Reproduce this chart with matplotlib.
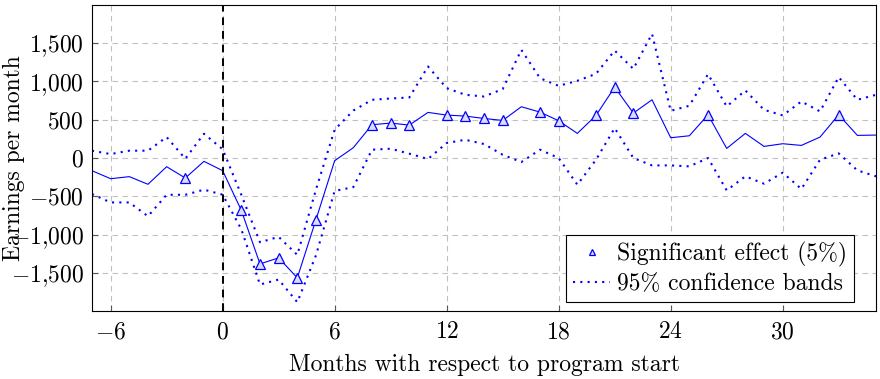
import numpy as np
import matplotlib
matplotlib.use('Agg')
import matplotlib.pyplot as plt
from matplotlib.ticker import FuncFormatter

plt.rcParams['font.family'] = ['cmr10', 'DejaVu Serif']
plt.rcParams['mathtext.fontset'] = 'cm'
plt.rcParams['axes.formatter.use_mathtext'] = True
plt.rcParams['axes.unicode_minus'] = False

# months relative to program start
months = list(range(-7, 36))

# point estimates
effect = [-165, -270, -243, -343, -113, -261, -43, -165, -683, -1383,
          -1304, -1565, -804, -35, 135, 435, 457, 430, 596, 561,
          548, 517, 491, 670, 600, 487, 322, 557, 926, 587,
          761, 265, 291, 565, 126, 322, 152, 187, 165, 274,
          565, 296, 300]

# 95% confidence bands
upper = [96, 52, 96, 96, 274, -9, 317, 115, -480, -1100,
         -1030, -1265, -410, 370, 620, 761, 778, 791, 1196, 913,
         826, 804, 900, 1413, 1043, 943, 1009, 1100, 1404, 1165,
         1622, 617, 683, 1096, 674, 883, 630, 557, 739, 609,
         1057, 761, 826]
lower = [-470, -580, -580, -760, -480, -480, -413, -478, -930, -1652,
         -1587, -1883, -1270, -430, -380, 109, 122, 57, -13, 196,
         239, 183, 43, -52, 109, 0, -348, -22, 391, 0,
         -96, -96, -109, 0, -422, -239, -335, -191, -404, -22,
         61, -161, -239]

# months where the effect is significant at 5%
sig_months = [-2, 1, 2, 3, 4, 5, 8, 9, 10, 12, 13, 14, 15, 17, 18, 20, 21, 22, 26, 33]

sig_vals = [effect[months.index(m)] for m in sig_months]

fig = plt.figure(figsize=(8.8, 3.79), dpi=100)
ax = fig.add_axes([0.1045, 0.179, 0.891, 0.808])

ax.grid(True, color='#c0c0c0', linestyle=(0, (5, 4)), linewidth=0.8)
ax.set_axisbelow(True)

ax.plot(months, effect, color='blue', linewidth=0.8)
ax.plot(sig_months, sig_vals, linestyle='none', marker='^', markersize=6.5,
        markerfacecolor='#dcdcff', markeredgecolor='blue', markeredgewidth=0.9,
        label='Significant effect (5%)')
ax.plot(months, upper, color='blue', linestyle=(0, (1, 2.5)), linewidth=1.5,
        label='95% confidence bands')
ax.plot(months, lower, color='blue', linestyle=(0, (1, 2.5)), linewidth=1.5)

ax.axvline(0, color='black', linestyle=(0, (4, 3)), linewidth=1.4)

ax.set_xlim(-7, 35)
ax.set_ylim(-2000, 2000)
ax.set_xticks([-6, 0, 6, 12, 18, 24, 30])
ax.set_yticks([-1500, -1000, -500, 0, 500, 1000, 1500])


def fmt(v, pos):
    v = int(round(v))
    s = '{:,}'.format(abs(v)).replace(',', '{,}')
    if v < 0:
        return r'$-' + s + '$'
    return r'$' + s + '$'


ax.yaxis.set_major_formatter(FuncFormatter(fmt))
ax.xaxis.set_major_formatter(FuncFormatter(fmt))
ax.tick_params(labelsize=17, direction='in', length=4, color='#555555')
ax.tick_params(axis='x', pad=7)
ax.tick_params(axis='y', pad=6)

ax.set_xlabel('Months with respect to program start', fontsize=17)
ax.set_ylabel('Earnings per month', fontsize=17)
ax.xaxis.set_label_coords(0.5, -0.14)
ax.yaxis.set_label_coords(-0.086, 0.5)

leg = ax.legend(loc='lower right', bbox_to_anchor=(0.972, 0.029), fontsize=17,
                fancybox=False, framealpha=1, edgecolor='black', handlelength=1.55,
                borderpad=0.3, labelspacing=0.25, handletextpad=0.3, borderaxespad=0,
                markerscale=0.7)
leg.get_frame().set_linewidth(0.8)

for s in ax.spines.values():
    s.set_linewidth(0.8)

fig.savefig('out.png', dpi=100)
